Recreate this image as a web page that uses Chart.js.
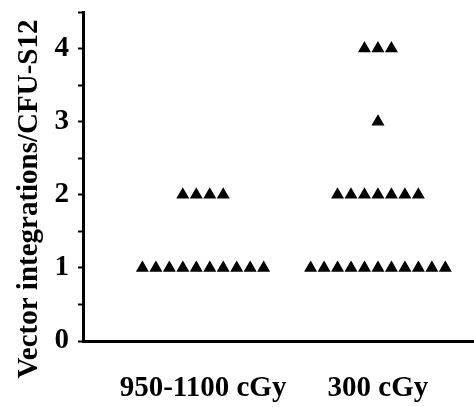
<!DOCTYPE html>
<html>
<head>
<meta charset="utf-8">
<script src="https://cdn.jsdelivr.net/npm/chart.js@4.4.1/dist/chart.umd.min.js"></script>
<style>
  html, body { margin: 0; padding: 0; background: #fff; }
  #wrap { width: 474px; height: 407px; }
</style>
</head>
<body>
<div id="wrap"><canvas id="chart"></canvas></div>
<script>
const groups = ["950-1100 cGy", "300 cGy"];
// integrations per CFU-S12, one entry per colony
const highDoseValues = [1, 1, 1, 1, 1, 1, 1, 1, 1, 1, 2, 2, 2, 2];
const lowDoseValues = [1, 1, 1, 1, 1, 1, 1, 1, 1, 1, 1, 2, 2, 2, 2, 2, 2, 2, 3, 4, 4, 4];
const yTicks = [0, 1, 2, 3, 4];
const yTitle = "Vector integrations/CFU-S12";

const spread = 0.077; // gap between side-by-side triangles, in group units
const fontFamily = "'Liberation Serif', 'Times New Roman', serif";

// spread equal values side by side around the group centre
function toPoints(values, groupIndex) {
    const counts = {};
    values.forEach(v => counts[v] = (counts[v] || 0) + 1);
    const seen = {};
    return values.map(v => {
        seen[v] = seen[v] === undefined ? 0 : seen[v] + 1;
        return { x: groupIndex + (seen[v] - (counts[v] - 1) / 2) * spread, y: v };
    });
}

// y title drawn by hand so it is not squeezed to the axis height
const yTitlePlugin = {
    id: "yTitle",
    afterDraw(chart) {
        const ctx = chart.ctx;
        ctx.save();
        ctx.translate(30, 199);
        ctx.rotate(-Math.PI / 2);
        ctx.font = "bold 29px " + fontFamily;
        ctx.fillStyle = "#000";
        ctx.textAlign = "center";
        ctx.textBaseline = "middle";
        ctx.fillText(yTitle, 0, 0);
        ctx.restore();
    }
};

new Chart(document.getElementById("chart"), {
    type: "scatter",
    data: {
        datasets: [
            { data: toPoints(highDoseValues, 0) },
            { data: toPoints(lowDoseValues, 1) }
        ]
    },
    options: {
        responsive: true,
        maintainAspectRatio: false,
        animation: false,
        layout: { autoPadding: false, padding: { top: 12, right: 0, left: 0, bottom: 0 } },
        elements: {
            point: {
                pointStyle: "triangle",
                radius: 6.3,
                backgroundColor: "#000",
                borderColor: "#000",
                borderWidth: 1.2
            }
        },
        plugins: {
            legend: { display: false },
            tooltip: { enabled: false }
        },
        scales: {
            x: {
                type: "linear",
                min: -0.686,
                max: 1.549,
                afterBuildTicks: scale => {
                    scale.ticks = groups.map((g, i) => ({ value: i }));
                },
                ticks: {
                    callback: v => groups[v],
                    font: { family: fontFamily, size: 29, weight: "bold" },
                    color: "#000",
                    padding: 22,
                    maxRotation: 0,
                    autoSkip: false
                },
                grid: { display: false },
                border: { display: true, color: "#000", width: 3 },
                afterFit: scale => {
                    scale.height = 66;
                    scale.paddingLeft = 0;
                    scale.paddingRight = 0;
                }
            },
            y: {
                min: 0,
                max: 4.5,
                ticks: {
                    stepSize: 0.5,
                    autoSkip: false,
                    callback: v => yTicks.includes(v) ? v : "",
                    font: { family: fontFamily, size: 29, weight: "bold" },
                    color: "#000",
                    padding: 9
                },
                grid: {
                    drawOnChartArea: false,
                    drawTicks: true,
                    tickLength: 5,
                    tickWidth: 2,
                    tickColor: "#000"
                },
                border: { display: true, color: "#000", width: 3 },
                afterFit: scale => {
                    scale.width = 83;
                    scale.paddingTop = 0;
                    scale.paddingBottom = 0;
                }
            }
        }
    },
    plugins: [yTitlePlugin]
});
</script>
</body>
</html>
